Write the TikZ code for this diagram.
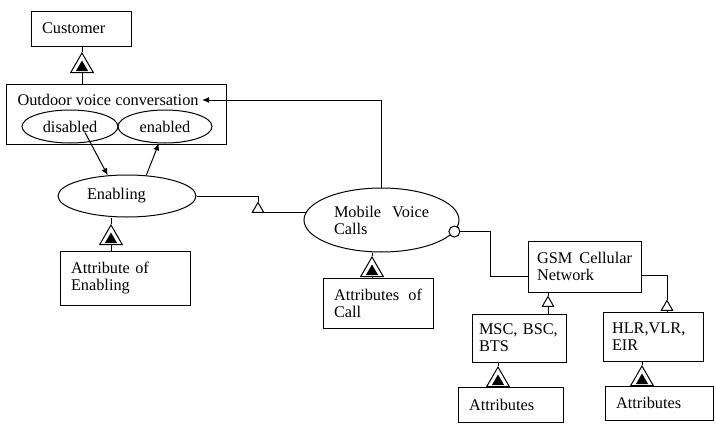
\documentclass[tikz,border=0pt]{standalone}
\usepackage{fontspec}
\setmainfont{Liberation Serif}
\usetikzlibrary{shapes.geometric,arrows.meta}
\tikzset{
  box/.style={draw, rectangle, inner xsep=0pt, inner ysep=0pt, align=left},
  obj/.style={draw, ellipse, inner sep=0pt},
  aggr/.style={draw, fill=white, regular polygon, regular polygon sides=3, minimum size=26pt, inner sep=0pt},
  aggrin/.style={fill=black, regular polygon, regular polygon sides=3, minimum size=14pt, inner sep=0pt},
  gen/.style={draw, fill=white, regular polygon, regular polygon sides=3, minimum size=13pt, inner sep=0pt},
  tip/.style={-{Latex[length=7pt,width=6pt]}}
}
\begin{document}
\begin{tikzpicture}[x=1pt, y=-1pt, line width=1pt, font=\fontsize{16.3}{17}\selectfont]
            \useasboundingbox (0,0) rectangle (716,434);

            % Customer
            \node[box, minimum width=100pt, minimum height=35pt, text width=78pt] (cust) at (81,28.5) {Customer};

            % Outdoor voice conversation
            \node[box, minimum width=220pt, minimum height=60pt] (outd) at (116,114) {};
            \node[anchor=west, inner sep=3pt] (outdt) at (14,100) {Outdoor voice conversation};
            \node[obj, minimum width=96pt, minimum height=33pt] (disab) at (70,126.5) {disabled};
            \node[obj, minimum width=94pt, minimum height=33pt] (enabd) at (165,126.5) {enabled};

            % Enabling
            \node[obj, minimum width=138pt, minimum height=42pt, text width=80pt, align=left] (enab) at (127,196) {Enabling};
            \node[box, minimum width=130pt, minimum height=54pt, text width=108pt] (attenab) at (125,278) {Attribute of\\Enabling};

            % Mobile Voice Calls
            \node[obj, minimum width=155pt, minimum height=64pt, text width=95pt, align=left] (mvc) at (381.5,220) {Mobile\hfill Voice\\Calls};
            \node[box, minimum width=110pt, minimum height=50pt, text width=88pt] (attcall) at (378,303) {Attributes\hfill of\\Call};
            \node[draw, circle, fill=white, minimum size=11pt, inner sep=0pt] (cir) at (mvc.-9) {};

            % GSM Cellular Network
            \node[box, minimum width=113pt, minimum height=51pt, text width=95pt] (gsm) at (584.5,266.5) {GSM\hfill Cellular\\Network};
            \node[box, minimum width=94pt, minimum height=48pt, text width=80pt] (msc) at (519,338) {MSC, BSC,\\BTS};
            \node[box, minimum width=100pt, minimum height=49pt, text width=82pt] (hlr) at (653,336.5) {HLR,VLR,\\EIR};
            \node[box, minimum width=105pt, minimum height=35pt, text width=83pt] (attr1) at (510.5,404.5) {Attributes};
            \node[box, minimum width=108pt, minimum height=34pt, text width=86pt] (attr2) at (659,403) {Attributes};

            % Aggregazione
            \foreach \n/\p in {a1/{82,66}, a2/{111,238}, a3/{372,270}, a4/{498,380}, a5/{642,379}} {
                \node[aggr] (\n) at (\p) {};
                \node[aggrin, yshift=-1.5pt] (in\n) at (\p) {};
            }
            \draw (cust.south -| a1.north) -- (a1.north);
            \draw (a1.south) -- (a1.south |- outd.north);
            \draw (enab.south -| a2.north) -- (a2.north);
            \draw (a2.south) -- (a2.south |- attenab.north);
            \draw (mvc.south -| a3.north) -- (a3.north);
            \draw (a3.south) -- (a3.south |- attcall.north);
            \draw (msc.south -| a4.north) -- (a4.north);
            \draw (a4.south) -- (a4.south |- attr1.north);
            \draw (hlr.south -| a5.north) -- (a5.north);
            \draw (a5.south) -- (a5.south |- attr2.north);

            % Generalizzazione
            \node[gen] (g1) at (258,209) {};
            \node[gen] (g2) at (548,303) {};
            \node[gen] (g3) at (667,307) {};
            \draw (enab.east) -| (g1.north);
            \draw (g1.south) |- (mvc.174);
            \draw (gsm.south -| g2.north) -- (g2.north);
            \draw (g2.south) -- (g2.south |- msc.north);
            \draw ([yshift=-8.5pt]gsm.east) -| (g3.north);
            \draw (g3.south) -- (g3.south |- hlr.north);

            % Esibizione
            \draw (cir.east) -| ([xshift=-37pt,yshift=-10pt]gsm.west) -- ([yshift=-10pt]gsm.west);

            % Effetti
            \draw[tip] (mvc.north) |- (outdt.east);
            \draw[tip] ([shift={(15,6)}]disab.center) -- (enab.133);
            \draw[tip] (enab.47) -- (enabd.250);
        \end{tikzpicture}
\end{document}
